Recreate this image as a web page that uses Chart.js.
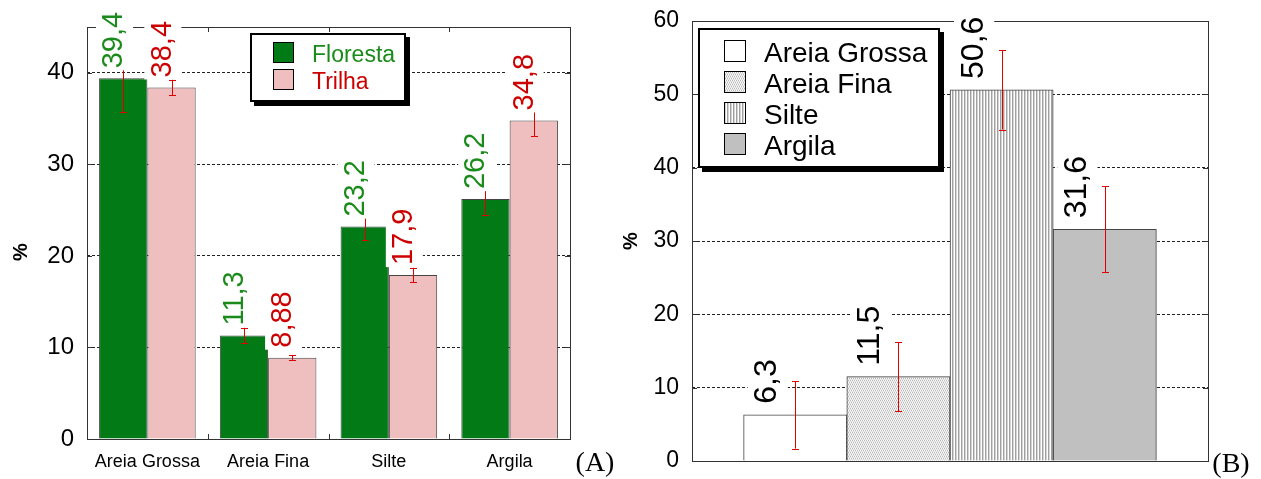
<!DOCTYPE html>
<html><head><meta charset="utf-8">
<script src="https://cdn.jsdelivr.net/npm/chart.js@4.4.0/dist/chart.umd.min.js"></script>
<style>
html,body{margin:0;padding:0;background:#fff;width:1261px;height:479px;overflow:hidden}
#ca{position:absolute;left:0;top:0}
#cb{position:absolute;left:610px;top:0}
</style></head><body>
<canvas id="ca" width="630" height="479"></canvas>
<canvas id="cb" width="651" height="479"></canvas>
<script>
// ---------- DATA (A) ----------
const categoriesA = ['Areia Grossa', 'Areia Fina', 'Silte', 'Argila'];
const seriesNamesA = ['Floresta', 'Trilha'];
const florestaValues = [39.4, 11.3, 23.2, 26.2];
const trilhaValues = [38.4, 8.88, 17.9, 34.8];
const florestaErr = [3.7, 0.85, 1.5, 1.7];
const trilhaErr = [0.85, 0.3, 0.8, 1.75];
const florestaLabels = ['39,4', '11,3', '23,2', '26,2'];
const trilhaLabels = ['38,4', '8,88', '17,9', '34,8'];
const yTicksA = [0, 10, 20, 30, 40];
const yMaxA = 45;

// ---------- DATA (B) ----------
const categoriesB = ['Areia Grossa', 'Areia Fina', 'Silte', 'Argila'];
const positionsB = [1, 2, 3, 4];
const valuesB = [6.3, 11.5, 50.6, 31.6];
const errB = [4.6, 4.7, 5.4, 5.85];
const labelsB = ['6,3', '11,5', '50,6', '31,6'];
const yTicksB = [0, 10, 20, 30, 40, 50, 60];

const FONT = "'Liberation Sans', Arial, Helvetica, sans-serif";
const SERIF = "'Liberation Serif', 'Times New Roman', serif";

function line(ctx, x1, y1, x2, y2) { ctx.beginPath(); ctx.moveTo(x1, y1); ctx.lineTo(x2, y2); ctx.stroke(); }
function crisp(v) { return Math.round(v) + 0.5; }
function drawErr(ctx, x, yHi, yLo) {
  x = crisp(x);
  ctx.strokeStyle = '#E00000'; ctx.lineWidth = 1;
  line(ctx, x, yHi, x, yLo);
  line(ctx, x - 3.5, crisp(yHi), x + 3.5, crisp(yHi));
  line(ctx, x - 3.5, crisp(yLo), x + 3.5, crisp(yLo));
}
function vLabel(ctx, text, xBase, yStart, size, color) {
  ctx.save();
  ctx.font = size + 'px ' + FONT;
  const w = ctx.measureText(text).width;
  ctx.translate(xBase, yStart);
  ctx.rotate(-Math.PI / 2);
  ctx.fillStyle = '#fff';
  ctx.fillRect(-2, -0.8 * size - 3, w + 5, 0.8 * size + 0.27 * size + 6);
  ctx.fillStyle = color;
  ctx.textAlign = 'left'; ctx.textBaseline = 'alphabetic';
  ctx.fillText(text, 0, 0);
  ctx.restore();
}
function drawFrame(ctx, ca) {
  ctx.strokeStyle = '#333'; ctx.lineWidth = 1;
  const l = crisp(ca.left), r = crisp(ca.right), t = crisp(ca.top), b = crisp(ca.bottom);
  ctx.strokeRect(l, t, r - l, b - t);
}

// ---------- patterns for B ----------
function makePattern(ctx, w, h, cols) {
  const c = document.createElement('canvas'); c.width = w; c.height = h;
  const g = c.getContext('2d');
  for (let yy = 0; yy < h; yy++) for (let xx = 0; xx < w; xx++) {
    g.fillStyle = cols[yy][xx]; g.fillRect(xx, yy, 1, 1);
  }
  return ctx.createPattern(c, 'repeat');
}
const ctxB = document.getElementById('cb').getContext('2d');
const patFina = makePattern(ctxB, 4, 4, [
  ['#B8B8B8', '#FFFFFF', '#B8B8B8', '#FFFFFF'],
  ['#E4E4E4', '#E4E4E4', '#E4E4E4', '#E4E4E4'],
  ['#FFFFFF', '#B8B8B8', '#FFFFFF', '#B8B8B8'],
  ['#E4E4E4', '#E4E4E4', '#E4E4E4', '#E4E4E4']
]);
const patSilte = makePattern(ctxB, 3, 1, [['#A0A0A0', '#D4D4D4', '#FFFFFF']]);
const fillsB = ['#FFFFFF', patFina, patSilte, '#C0C0C0'];

// ---------- CHART A ----------
const colorsA = ['#027A16', '#EFBEBE'];
const textColorsA = ['#1A8A1A', '#CC0000'];
const errsA = [florestaErr, trilhaErr];
const labsA = [florestaLabels, trilhaLabels];

const pluginA = {
  id: 'extrasA',
  afterDraw(chart) {
    const { ctx, chartArea: ca, scales: { x, y } } = chart;
    ctx.save();
    drawFrame(ctx, ca);
    ctx.strokeStyle = '#333';
    yTicksA.forEach(v => {
      if (v === 0) return;
      const py = crisp(y.getPixelForValue(v));
      line(ctx, ca.left, py, ca.left + 5, py);
      line(ctx, ca.right - 5, py, ca.right, py);
    });
    for (let i = 1; i < categoriesA.length; i++) {
      const px = crisp((x.getPixelForValue(i - 1) + x.getPixelForValue(i)) / 2);
      line(ctx, px, ca.bottom, px, ca.bottom - 5);
      line(ctx, px, ca.top, px, ca.top + 5);
    }
    chart.data.datasets.forEach((ds, di) => {
      chart.getDatasetMeta(di).data.forEach((bar, j) => {
        const v = ds.data[j], e = errsA[di][j];
        drawErr(ctx, bar.x, y.getPixelForValue(v + e), y.getPixelForValue(v - e));
      });
    });
    chart.data.datasets.forEach((ds, di) => {
      chart.getDatasetMeta(di).data.forEach((bar, j) => {
        vLabel(ctx, labsA[di][j], bar.x - 1, bar.y - 10, 29, textColorsA[di]);
      });
    });
    // legend
    ctx.fillStyle = '#000'; ctx.fillRect(254, 37, 156, 69);
    ctx.fillStyle = '#fff'; ctx.fillRect(250, 33, 156, 69);
    ctx.strokeStyle = '#000'; ctx.lineWidth = 2; ctx.strokeRect(251, 34, 154, 67);
    ctx.lineWidth = 1;
    seriesNamesA.forEach((name, i) => {
      const top = 42 + i * 27;
      ctx.fillStyle = colorsA[i]; ctx.fillRect(273, top, 21, 21);
      ctx.strokeStyle = '#000'; ctx.strokeRect(273.5, top + 0.5, 20, 20);
      ctx.fillStyle = textColorsA[i];
      ctx.font = '23px ' + FONT; ctx.textAlign = 'left'; ctx.textBaseline = 'alphabetic';
      ctx.fillText(name, 312, top + 20);
    });
    // axis title
    ctx.save();
    ctx.translate(21, 252); ctx.rotate(-Math.PI / 2);
    ctx.font = 'bold 20px ' + FONT; ctx.fillStyle = '#000';
    ctx.textAlign = 'center'; ctx.textBaseline = 'middle';
    ctx.fillText('%', 0, 0);
    ctx.restore();
    ctx.font = '28px ' + SERIF; ctx.fillStyle = '#000';
    ctx.textAlign = 'center'; ctx.textBaseline = 'middle';
    ctx.fillText('(A)', 595, 464);
    ctx.restore();
  }
};

new Chart(document.getElementById('ca'), {
  type: 'bar',
  data: {
    labels: categoriesA,
    datasets: [
      { label: seriesNamesA[0], data: florestaValues, backgroundColor: colorsA[0], borderColor: '#444', borderWidth: 1 },
      { label: seriesNamesA[1], data: trilhaValues, backgroundColor: colorsA[1], borderColor: '#444', borderWidth: 1 }
    ]
  },
  options: {
    responsive: false, animation: false, devicePixelRatio: 1,
    layout: { padding: { left: 0, right: 60, top: 27, bottom: 0 } },
    plugins: { legend: { display: false }, tooltip: { enabled: false } },
    datasets: { bar: { categoryPercentage: 0.8, barPercentage: 1 } },
    scales: {
      x: {
        grid: { display: false, drawTicks: false }, border: { display: false },
        ticks: { font: { family: FONT, size: 18 }, color: '#000', padding: 12, maxRotation: 0, autoSkip: false },
        afterFit(s) { s.height = 40; }
      },
      y: {
        min: 0, max: yMaxA,
        afterBuildTicks(s) { s.ticks = yTicksA.map(v => ({ value: v })); },
        grid: { color: '#222', lineWidth: 1, drawTicks: false },
        border: { display: false, dash: [3, 2] },
        ticks: { font: { family: FONT, size: 24 }, color: '#000', padding: 13 },
        afterFit(s) { s.width = 87; s.paddingTop = 0; s.paddingBottom = 0; }
      }
    }
  },
  plugins: [pluginA]
});

// ---------- CHART B ----------
const pluginB = {
  id: 'extrasB',
  afterDraw(chart) {
    const { ctx, chartArea: ca, scales: { y } } = chart;
    ctx.save();
    drawFrame(ctx, ca);
    ctx.strokeStyle = '#333';
    yTicksB.forEach(v => {
      if (v === 0) return;
      const py = crisp(y.getPixelForValue(v));
      line(ctx, ca.left, py, ca.left + 5, py);
      line(ctx, ca.right - 5, py, ca.right, py);
    });
    const meta = chart.getDatasetMeta(0);
    meta.data.forEach((bar, j) => {
      const v = valuesB[j], e = errB[j];
      drawErr(ctx, bar.x, y.getPixelForValue(v + e), y.getPixelForValue(v - e));
    });
    meta.data.forEach((bar, j) => {
      vLabel(ctx, labelsB[j], bar.x - 19, bar.y - 11, 32, '#000');
    });
    // legend
    ctx.fillStyle = '#000'; ctx.fillRect(92, 32, 242, 140);
    ctx.fillStyle = '#fff'; ctx.fillRect(88, 28, 242, 140);
    ctx.strokeStyle = '#000'; ctx.lineWidth = 2; ctx.strokeRect(89, 29, 240, 138);
    ctx.lineWidth = 1;
    categoriesB.forEach((name, i) => {
      const top = 40 + i * 31;
      ctx.fillStyle = fillsB[i]; ctx.fillRect(114, top, 22, 22);
      ctx.strokeStyle = '#000'; ctx.strokeRect(114.5, top + 0.5, 21, 21);
      ctx.fillStyle = '#000';
      ctx.font = '28px ' + FONT; ctx.textAlign = 'left'; ctx.textBaseline = 'alphabetic';
      ctx.fillText(name, 154, top + 22);
    });
    ctx.save();
    ctx.translate(21, 241); ctx.rotate(-Math.PI / 2);
    ctx.font = 'bold 20px ' + FONT; ctx.fillStyle = '#000';
    ctx.textAlign = 'center'; ctx.textBaseline = 'middle';
    ctx.fillText('%', 0, 0);
    ctx.restore();
    ctx.font = '28px ' + SERIF; ctx.fillStyle = '#000';
    ctx.textAlign = 'center'; ctx.textBaseline = 'middle';
    ctx.fillText('(B)', 621, 465);
    ctx.restore();
  }
};

new Chart(document.getElementById('cb'), {
  type: 'bar',
  data: {
    datasets: [{
      label: 'Textura',
      data: valuesB.map((v, i) => ({ x: positionsB[i], y: v })),
      backgroundColor: fillsB, borderColor: '#444', borderWidth: 1,
      categoryPercentage: 1, barPercentage: 1
    }]
  },
  options: {
    responsive: false, animation: false, devicePixelRatio: 1,
    layout: { padding: { left: 0, right: 53, top: 21, bottom: 0 } },
    plugins: { legend: { display: false }, tooltip: { enabled: false } },
    scales: {
      x: {
        type: 'linear', min: 0, max: 5, offset: false,
        grid: { display: false, drawTicks: false, offset: false }, border: { display: false },
        ticks: { stepSize: 1, display: false },
        afterFit(s) { s.height = 18; s.paddingLeft = 0; s.paddingRight = 0; }
      },
      y: {
        min: 0, max: 60,
        afterBuildTicks(s) { s.ticks = yTicksB.map(v => ({ value: v })); },
        grid: { color: '#222', lineWidth: 1, drawTicks: false },
        border: { display: false, dash: [3, 2] },
        ticks: { font: { family: FONT, size: 23 }, color: '#000', padding: 13 },
        afterFit(s) { s.width = 82; s.paddingTop = 0; s.paddingBottom = 0; }
      }
    }
  },
  plugins: [pluginB]
});
</script>
</body></html>
